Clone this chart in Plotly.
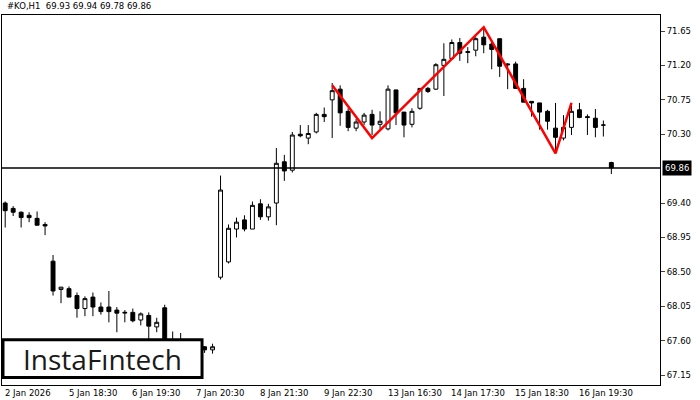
import plotly.graph_objects as go

opens = [69.40, 69.33, 69.28, 69.24, 69.20, 69.12, 68.64, 68.27, 68.28, 68.19,
         68.02, 68.17, 68.04, 68.04, 68.00, 67.96, 67.97, 67.87, 67.93, 67.78,
         68.03, 67.60, 67.55, 67.50, 67.47, 67.52, 67.48, 68.43, 68.63, 69.06,
         69.18, 69.06, 69.39, 69.22, 69.40, 69.94, 69.83, 70.30, 70.25, 70.33,
         70.56, 70.75, 70.89, 70.60, 70.38, 70.46, 70.56, 70.43, 70.37, 70.88,
         70.59, 70.43, 70.64, 70.90, 70.89, 71.20, 71.29, 71.50, 71.37, 71.40,
         71.57, 71.48, 71.55, 71.22, 71.22, 70.90, 70.73, 70.71, 70.60, 70.38,
         70.25, 70.39, 70.62, 70.53, 70.51, 70.42, 69.93]
highs = [69.42, 69.36, 69.29, 69.28, 69.29, 69.15, 68.72, 68.30, 68.31, 68.23,
         68.18, 68.23, 68.10, 68.25, 68.04, 68.00, 68.02, 67.97, 67.97, 67.90,
         68.07, 67.72, 67.70, 67.58, 67.55, 67.53, 67.56, 69.76, 69.12, 69.21,
         69.24, 69.42, 69.45, 69.39, 70.12, 70.03, 70.33, 70.42, 70.42, 70.58,
         70.65, 70.97, 70.94, 70.64, 70.50, 70.58, 70.62, 70.60, 70.94, 70.88,
         70.59, 70.64, 70.90, 70.92, 71.23, 71.49, 71.54, 71.56, 71.44, 71.57,
         71.70, 71.51, 71.55, 71.23, 71.25, 71.02, 70.73, 70.71, 70.62, 70.71,
         70.55, 70.71, 70.71, 70.56, 70.63, 70.48, 69.94]
lows = [69.08, 69.23, 69.08, 69.15, 69.11, 68.98, 68.19, 68.09, 68.17, 67.90,
        67.92, 67.92, 67.94, 67.84, 67.71, 67.84, 67.84, 67.80, 67.61, 67.71,
        67.50, 67.45, 67.42, 67.40, 67.40, 67.44, 67.43, 68.40, 68.61, 68.95,
        69.03, 69.06, 69.18, 69.17, 69.11, 69.69, 69.80, 70.26, 70.17, 70.31,
        70.46, 70.25, 70.41, 70.34, 70.34, 70.42, 70.29, 70.37, 70.35, 70.42,
        70.26, 70.39, 70.62, 70.84, 70.88, 70.80, 71.27, 71.26, 71.23, 71.32,
        71.36, 71.15, 71.05, 70.89, 70.90, 70.72, 70.53, 70.36, 70.36, 70.07,
        70.22, 70.29, 70.51, 70.29, 70.26, 70.27, 69.78]
closes = [69.30, 69.28, 69.21, 69.21, 69.11, 69.10, 68.25, 68.30, 68.17, 68.02,
          68.15, 68.04, 67.98, 67.98, 67.96, 67.97, 67.86, 67.95, 67.79, 67.84,
          67.58, 67.55, 67.50, 67.47, 67.52, 67.48, 67.52, 69.57, 69.07, 69.15,
          69.06, 69.37, 69.22, 69.35, 69.92, 69.82, 70.29, 70.28, 70.31, 70.56,
          70.53, 70.87, 70.58, 70.39, 70.46, 70.55, 70.42, 70.47, 70.89, 70.58,
          70.42, 70.60, 70.90, 70.86, 71.21, 71.28, 71.50, 71.36, 71.38, 71.55,
          71.47, 71.41, 71.19, 71.21, 70.90, 70.72, 70.71, 70.59, 70.47, 70.26,
          70.39, 70.60, 70.52, 70.52, 70.39, 70.42, 69.86]

pattern_idx = [41, 46, 60, 69, 71]
pattern_price = [70.94, 70.25, 71.70, 70.05, 70.71]

tick_idx = [0, 8, 16, 24, 32, 40, 48, 56, 64, 72]
tick_text = ['2 Jan 2026', '5 Jan 18:30', '6 Jan 19:30', '7 Jan 20:30', '8 Jan 21:30',
             '9 Jan 22:30', '13 Jan 16:30', '14 Jan 17:30', '15 Jan 18:30', '16 Jan 19:30']
y_ticks = [67.15, 67.60, 68.05, 68.50, 68.95, 69.40, 70.30, 70.75, 71.20, 71.65]
last_price = 69.86

x = list(range(len(opens)))

fig = go.Figure()
fig.add_trace(go.Candlestick(
    x=x, open=opens, high=highs, low=lows, close=closes,
    increasing=dict(line=dict(color='black', width=1), fillcolor='white'),
    decreasing=dict(line=dict(color='black', width=1), fillcolor='black'),
    whiskerwidth=0, showlegend=False, hoverinfo='skip'))
fig.add_trace(go.Scatter(x=pattern_idx, y=pattern_price, mode='lines',
                         line=dict(color='#ff0000', width=2.5), showlegend=False))

fig.add_hline(y=last_price, line=dict(color='black', width=1.5))

for i, t in zip(tick_idx, tick_text):
    fig.add_annotation(x=i - 0.3, y=0, yref='paper', yanchor='top', xanchor='left',
                       text=t, showarrow=False, font=dict(size=8.5, color='black'),
                       yshift=-1)

fig.add_annotation(x=1.003, xref='paper', y=last_price, xanchor='left', text=str(last_price),
                   showarrow=False, bgcolor='black', font=dict(size=8.5, color='white'),
                   borderpad=2)
fig.add_annotation(x=0.005, xref='paper', y=1.005, yref='paper', xanchor='left', yanchor='bottom',
                   text='#KO,H1  69.93 69.94 69.78 69.86', showarrow=False,
                   font=dict(size=8.5, color='black'))

# logo box
fig.add_shape(type='rect', xref='paper', yref='paper', x0=0.0015, x1=0.304, y0=0.02, y1=0.122,
              fillcolor='white', line=dict(color='black', width=3))
fig.add_annotation(x=0.153, xref='paper', y=0.071, yref='paper', xanchor='center', yanchor='middle',
                   text='InstaFıntech', showarrow=False,
                   font=dict(size=28, color='#1a1a1a', family='Open Sans'))

fig.update_layout(
    width=700, height=400, margin=dict(l=2, r=40, t=15, b=15),
    paper_bgcolor='white', plot_bgcolor='white',
    font=dict(family='DejaVu Sans', size=8.5, color='black'),
    xaxis=dict(range=[-0.4, 82.1], showgrid=False, showticklabels=False, ticks='',
               rangeslider=dict(visible=False), showline=True, linecolor='black', mirror=True,
               zeroline=False),
    yaxis=dict(range=[67.02, 71.86], side='right', tickvals=y_ticks,
               ticktext=[f'{v:.2f}' for v in y_ticks], ticks='outside', ticklen=4,
               showgrid=False, showline=True, linecolor='black', mirror=True, zeroline=False),
)

fig.write_html('out.html', config={'displayModeBar': False},
               post_script="document.body.style.margin='0';")
